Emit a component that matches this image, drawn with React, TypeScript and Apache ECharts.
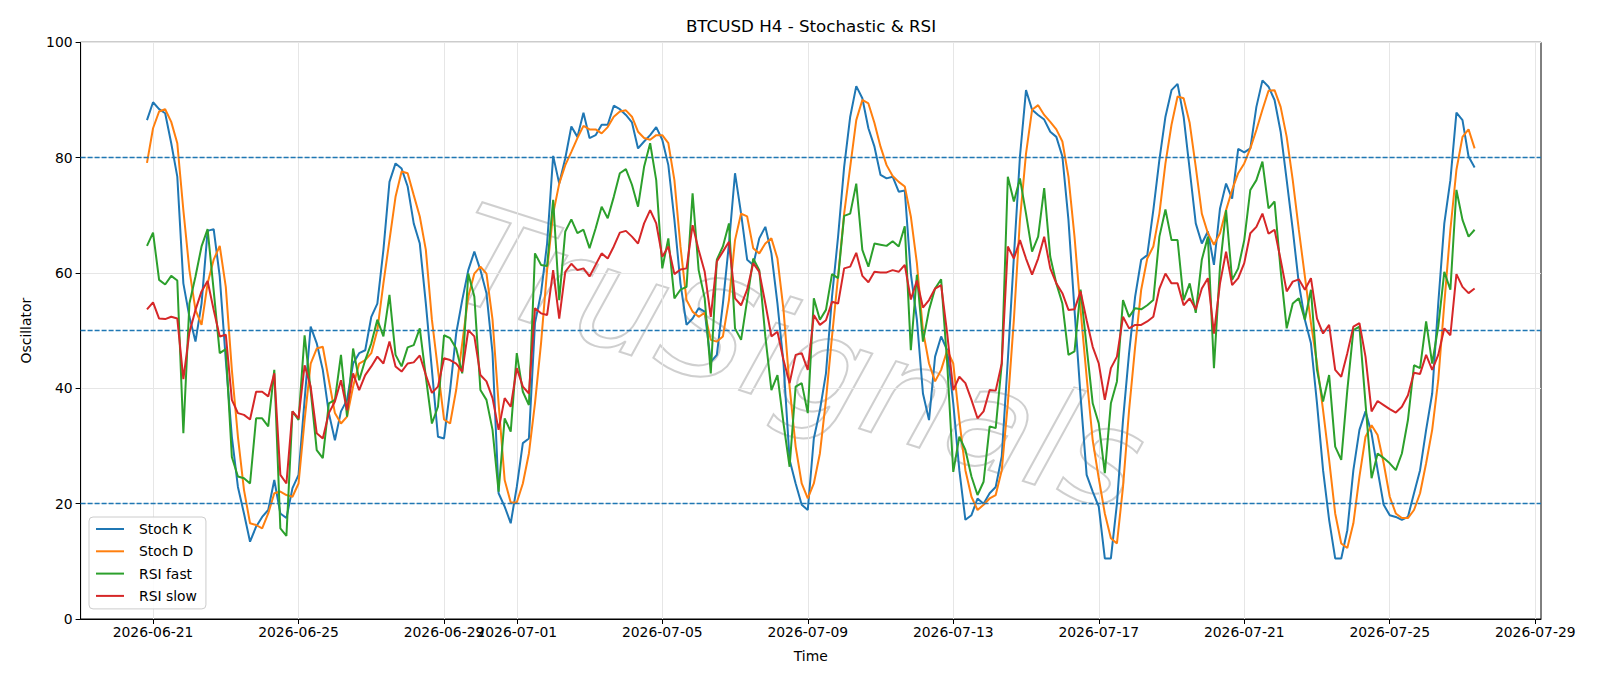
import React, { useEffect, useRef } from 'react';
import * as echarts from 'echarts';

// 4-hour bars, first bar at 2026-06-20 20:00 UTC
const START_UTC = Date.UTC(2026, 5, 20, 20);
const STEP_HOURS = 4;

const stochK = [
  86.5, 89.6, 88.4, 87.7, 82.5, 76.7, 58.2, 52.4, 48.1, 54.7,
  67.3, 67.6, 59.4, 44.9, 31.6, 22.9, 18.3, 13.4, 16, 17.7,
  18.9, 24.1, 18.3, 17.5, 22.7, 25, 38, 50.7, 47.8, 43.2,
  35.7, 31, 36, 38, 44.3, 46.1, 46.6, 52.4, 54.7, 64,
  75.8, 79, 78.1, 75, 68.6, 65.1, 54.7, 43.2, 31.6, 31.3,
  39.7, 49.5, 55.3, 60.5, 63.7, 60.5, 56.5, 46.1, 21.8, 19.5,
  16.6, 22.9, 30.5, 31.3, 51.3, 56.5, 65.1, 80.3, 75.5, 79.9,
  85.4, 83.6, 87.8, 83.4, 83.9, 85.7, 85.7, 89, 88.4, 87.4,
  86.1, 81.6, 82.8, 83.9, 85.3, 83.1, 78.7, 69.2, 58.2, 51,
  52.1, 53.9, 53.3, 44.6, 45.8, 54.7, 65.1, 77.3, 70.3, 62.3,
  61.4, 66, 68, 63.4, 54.7, 44.3, 27.6, 23.5, 19.8, 18.9,
  31.3, 36.2, 42.6, 55.9, 66.3, 78.4, 87.1, 92.4, 90.3, 85.1,
  81.9, 77, 76.4, 76.7, 74.1, 74.3, 59.9, 51.9, 39.1, 34.5,
  45.5, 49, 46.6, 37.4, 25.8, 17.2, 18, 20.9, 20, 21.8,
  22.9, 28.2, 44.9, 62.8, 80.2, 91.7, 88.3, 87.4, 86.6, 84.5,
  83.6, 80.2, 69.2, 53.6, 38.6, 25, 22.1, 19.5, 10.5, 10.5,
  20, 34.5, 46.1, 55.9, 62.3, 63.1, 70.9, 79.6, 87.1, 91.7,
  92.8, 87.1, 77.9, 68.6, 65.1, 67.2, 61.4, 71.2, 75.5, 72.9,
  81.5, 80.9, 81.6, 88.8, 93.4, 92.3, 90, 84.5, 76.1, 67.5,
  58.2, 51.9, 47.8, 37.4, 25.8, 17.2, 10.5, 10.5, 15.4, 25.8,
  32.8, 36, 32.2, 25.8, 19.8, 18, 17.7, 17.2, 17.7, 21.8,
  25.8, 32.8, 39.1, 54.7, 68.6, 76.1, 87.8, 86.5, 80.2, 78.3,
];

const stochD = [
  79.1, 85.1, 88, 88.4, 86.2, 82.5, 70.9, 60.5, 53.6, 51,
  58.2, 62.3, 64.7, 57.6, 43.2, 31.6, 22.4, 16.6, 16.3, 15.7,
  18.3, 21.8, 22.1, 21.5, 21.2, 23.5, 34.5, 44.3, 46.9, 47.2,
  41.4, 35.7, 33.9, 35.1, 40.3, 44.3, 44.9, 46.1, 50.1, 58.2,
  65.7, 73.2, 77.6, 77.3, 73.5, 69.8, 64, 51.9, 43.2, 34.6,
  33.9, 39.7, 47.8, 55.9, 59.9, 61.1, 59.9, 51.9, 37.4, 24.1,
  20.2, 20.2, 23.5, 28.7, 37.4, 47.8, 60.5, 70.3, 75.5, 78.7,
  81, 83.4, 85.5, 84.9, 84.9, 84.2, 85.3, 87.1, 88, 88.2,
  87.1, 84.5, 83.4, 83.1, 83.9, 83.9, 82.5, 76.1, 64.6, 55.3,
  53.3, 52.4, 53.1, 48.4, 48.1, 49, 55.3, 65.7, 70.3, 69.8,
  64.3, 63.4, 65.1, 66, 62.5, 53.6, 40.3, 29.9, 23.5, 20.9,
  23.5, 28.7, 38, 49, 59.4, 70.3, 78.4, 86.5, 90, 89.4,
  86, 81.9, 78.7, 76.8, 75.8, 75, 69.8, 61.7, 50, 44.3,
  41.2, 43.2, 46.6, 44.3, 34.5, 25.8, 21.2, 18.9, 19.8, 20.9,
  21.5, 25.8, 37.4, 51.9, 69.2, 80.7, 88.3, 89.1, 87.4, 86.2,
  84.9, 82.8, 76.7, 66.3, 53.6, 42, 31, 24.4, 18.3, 14,
  13.1, 22.9, 36.2, 47.2, 57.1, 62.5, 64.6, 70.3, 79, 85.7,
  90.6, 90.3, 86, 78.4, 70.3, 66.9, 64.9, 66.9, 70.9, 74.4,
  77.3, 79, 81.6, 84.8, 88.3, 91.6, 91.7, 88.8, 83.6, 76.1,
  67.5, 59.4, 51.3, 44.3, 36.2, 27.6, 18.3, 13.1, 12.3, 16.6,
  24.7, 31.6, 33.6, 31.9, 27, 21.2, 18.3, 17.5, 17.5, 18.9,
  21.8, 27, 32.8, 41.4, 54.7, 67.5, 77.9, 83.6, 84.9, 81.6,
];

const rsiFast = [
  64.7, 67, 58.8, 58, 59.5, 58.7, 32.2, 54.7, 59.4, 64.6,
  67.6, 57, 46.1, 46.8, 28.1, 24.7, 24.4, 23.5, 34.8, 34.8,
  33.4, 43.2, 15.7, 14.4, 36, 34.5, 49.2, 39.7, 29.3, 27.9,
  37.4, 38, 45.8, 35.1, 46.9, 41.4, 44.9, 47.8, 51.9, 49,
  56.2, 45.8, 43.8, 47.1, 47.5, 50.4, 42, 33.9, 36.8, 49.2,
  48.7, 46.9, 42.6, 59.9, 55.9, 39.7, 38, 32.8, 22.1, 34.8,
  32.5, 46.1, 39.4, 37.1, 63.4, 61.4, 61.2, 72.7, 55.3, 67.2,
  69.3, 66.9, 67.5, 64.3, 67.7, 71.5, 69.5, 73.2, 77.3, 78,
  75.3, 71.5, 78.4, 82.5, 76.1, 60.8, 66, 55.6, 57.1, 57.6,
  73.8, 60.5, 55.6, 42.6, 62.3, 64.6, 68.6, 50.4, 48.4, 55.3,
  62.5, 60.5, 49, 39.7, 42.3, 33.9, 26.4, 40.3, 40.9, 35.7,
  55.6, 51.9, 53.6, 59.8, 59.1, 69.9, 70.3, 75.5, 64, 61.1,
  65.1, 64.9, 64.7, 65.5, 64.6, 68.1, 46.6, 59.7, 48.1, 53.6,
  57.3, 58.9, 44.3, 25.5, 31.6, 29.3, 24.7, 21.5, 23.8, 33.4,
  33.1, 44.3, 76.7, 72.4, 76.4, 70.3, 63.7, 66.3, 74.7, 62.8,
  58.2, 54.7, 45.8, 46.4, 57.1, 47.2, 37.4, 33.9, 25.3, 37.4,
  41.2, 55.3, 52.4, 53.9, 53.7, 54.4, 55.3, 66.3, 71, 65.7,
  65.7, 55.3, 58.2, 53.1, 62.3, 66.3, 43.5, 61.1, 70.9, 58.8,
  60.8, 65.7, 74.4, 76.1, 79.3, 71.2, 72.4, 60.5, 50.4, 54.7,
  55.6, 51.9, 57.1, 43.2, 37.7, 42.3, 29.9, 27.6, 39.7, 50.1,
  50.7, 37.4, 24.4, 28.7, 27.9, 27, 25.8, 28.7, 34.5, 44,
  43.5, 51.6, 44.3, 50.7, 60.2, 57.1, 74.4, 69.2, 66.3, 67.5,
];

const rsiSlow = [
  53.7, 54.9, 52.1, 52, 52.4, 52.1, 41.6, 49.7, 53.6, 56.8,
  58.6, 53.6, 49, 49.3, 38, 35.7, 35.4, 34.6, 39.4, 39.4,
  38.6, 42.6, 25, 23.5, 36, 34.8, 44, 40.3, 32.2, 31.3,
  35.7, 37.7, 41.4, 36.2, 42.6, 39.7, 42.3, 43.8, 45.5, 44.3,
  48.1, 43.8, 42.9, 44.3, 44.5, 45.7, 42.3, 39.2, 40.3, 45.2,
  44.9, 44.3, 42.9, 50.1, 49, 42.3, 41.2, 38.3, 32.8, 38.3,
  36.8, 43.5, 40.3, 39.1, 53.9, 53, 52.7, 60.5, 52.1, 60.2,
  61.6, 60.5, 60.8, 59.4, 61.4, 63.4, 62.5, 64.6, 67, 67.3,
  66.3, 65.1, 68.6, 70.9, 68.6, 62.8, 64.6, 59.8, 60.6, 60.8,
  68.3, 64, 60.2, 52.4, 62, 63.7, 65.4, 55.6, 54.4, 57.1,
  61.7, 60.2, 54.7, 49, 49.8, 44.9, 40.9, 45.8, 46.1, 43.2,
  52.7, 51, 51.8, 55, 54.7, 60.8, 61.1, 63.5, 59.5, 58.4,
  60.2, 60.1, 60.1, 60.5, 60.2, 61.4, 55.4, 58.7, 54, 55.3,
  57.3, 57.9, 49.5, 39.7, 42, 40.9, 38, 34.8, 36, 39.7,
  39.6, 44.3, 64.6, 62.5, 65.7, 62.5, 59.7, 62.5, 66.3, 60.8,
  58.2, 56.5, 53.6, 53.7, 56.8, 51.8, 47.2, 44.3, 38, 43.5,
  45.5, 52.4, 50.4, 51, 51, 51.6, 52.4, 57.3, 59.9, 58.2,
  58.2, 54.4, 55.6, 53.7, 57.3, 59.1, 49.5, 58.2, 63.7, 57.9,
  59.1, 61.7, 66.9, 68, 70.3, 66.8, 67.5, 62.3, 56.8, 58.5,
  58.9, 57.1, 59.1, 52.1, 49.5, 51, 43.2, 42, 46.1, 50.7,
  51.3, 45.5, 36, 37.8, 37.1, 36.4, 35.8, 36.8, 38.8, 42.7,
  42.5, 45.8, 43.2, 45.8, 50.4, 49.2, 59.8, 57.6, 56.5, 57.3,
];

const levelLines = [20, 50, 80];
const xTickDates = [
  '2026-06-21', '2026-06-25', '2026-06-29', '2026-07-01', '2026-07-05', '2026-07-09',
  '2026-07-13', '2026-07-17', '2026-07-21', '2026-07-25', '2026-07-29',
];
const seriesNames = ['Stoch K', 'Stoch D', 'RSI fast', 'RSI slow'];
const seriesColors = ['#1f77b4', '#ff7f0e', '#2ca02c', '#d62728'];

const FONT = 'DejaVu Sans';

const pad2 = (n: number) => (n < 10 ? '0' + n : '' + n);
const fmtDate = (v: number) => {
  const d = new Date(v);
  return `${d.getUTCFullYear()}-${pad2(d.getUTCMonth() + 1)}-${pad2(d.getUTCDate())}`;
};

export default function App() {
  const ref = useRef<HTMLDivElement>(null);

  useEffect(() => {
    if (!ref.current) return;
    const chart = echarts.init(ref.current, null, { renderer: 'svg' });
    const stepMs = STEP_HOURS * 3600 * 1000;
    const times = stochK.map((_, i) => START_UTC + i * stepMs);
    const t0 = times[0];
    const t1 = times[times.length - 1];
    const span = t1 - t0;
    const xMin = t0 - 0.05 * span;
    const xMax = t1 + 0.05 * span;
    const xTicks = xTickDates.map((d) => Date.parse(d + 'T00:00:00Z'));
    const all = [stochK, stochD, rsiFast, rsiSlow];

    const gridLeft = 80.6;
    const gridRight = 1600 - 1541;
    const gridTop = 42.3;
    const gridBottom = 686 - 619;

    chart.setOption({
      animation: false,
      backgroundColor: '#ffffff',
      textStyle: { fontFamily: FONT },
      grid: {
        left: gridLeft,
        right: gridRight,
        top: gridTop,
        bottom: gridBottom,
        show: true,
        borderColor: '#000000',
        borderWidth: 1,
        backgroundColor: 'transparent',
      },
      legend: {
        orient: 'vertical',
        left: 89,
        top: 517,
        padding: [5, 9, 6, 7],
        itemGap: 8.3,
        itemWidth: 28,
        itemHeight: 2,
        icon: 'rect',
        backgroundColor: 'rgba(255,255,255,0.85)',
        borderColor: '#cccccc',
        borderWidth: 1,
        borderRadius: 4,
        textStyle: { fontFamily: FONT, fontSize: 13.9, color: '#000', padding: [0, 0, 0, 10] },
        data: seriesNames,
      },
      xAxis: {
        type: 'value',
        min: xMin,
        max: xMax,
        name: 'Time',
        nameLocation: 'middle',
        nameGap: 30,
        nameTextStyle: { fontFamily: FONT, fontSize: 13.9, color: '#000' },
        axisLine: { show: true, onZero: false, lineStyle: { color: '#000', width: 1 } },
        axisTick: { show: true, length: 5, customValues: xTicks, lineStyle: { color: '#000' } },
        axisLabel: {
          customValues: xTicks,
          formatter: (v: number) => fmtDate(v),
          fontFamily: FONT,
          fontSize: 13.9,
          color: '#000',
          margin: 6,
        },
        splitLine: { show: true, lineStyle: { color: '#e6e6e6', width: 1 } },
      },
      yAxis: {
        type: 'value',
        min: 0,
        max: 100,
        interval: 20,
        name: 'Oscillator',
        nameLocation: 'middle',
        nameGap: 48,
        nameTextStyle: { fontFamily: FONT, fontSize: 13.9, color: '#000' },
        axisLine: { show: true, lineStyle: { color: '#000', width: 1 } },
        axisTick: { show: true, length: 5, lineStyle: { color: '#000' } },
        axisLabel: { fontFamily: FONT, fontSize: 13.9, color: '#000', margin: 8 },
        splitLine: { show: true, lineStyle: { color: '#e6e6e6', width: 1 } },
      },
      graphic: [
        {
          type: 'text',
          x: 811,
          y: 26,
          silent: true,
          style: {
            text: 'BTCUSD H4 - Stochastic & RSI',
            align: 'center',
            verticalAlign: 'middle',
            fontFamily: FONT,
            fontSize: 16.7,
            fill: '#000',
          },
        },
        {
          type: 'text',
          x: 798,
          y: 359,
          rotation: -0.31,
          silent: true,
          z: -1,
          style: {
            text: 'TruSignals',
            align: 'center',
            verticalAlign: 'middle',
            fontFamily: FONT,
            fontStyle: 'italic',
            fontWeight: 200,
            fontSize: 138,
            fill: 'rgba(0,0,0,0)',
            stroke: 'rgba(160,160,160,0.5)',
            lineWidth: 2,
          },
        },
      ],
      series: all.map((arr, k) => ({
        name: seriesNames[k],
        type: 'line',
        data: times.map((t, i) => [t, arr[i]]),
        showSymbol: false,
        symbol: 'none',
        color: seriesColors[k],
        lineStyle: { width: 2, color: seriesColors[k] },
        z: 3 + k,
        ...(k === 0
          ? {
              markLine: {
                silent: true,
                symbol: 'none',
                label: { show: false },
                lineStyle: { color: '#1f77b4', type: [5, 2], width: 1.3 },
                data: levelLines.map((v) => ({ yAxis: v })),
              },
            }
          : {}),
      })),
    });

    return () => {
      chart.dispose();
    };
  }, []);

  return (
    <div
      ref={ref}
      style={{ position: 'fixed', left: 0, top: 0, width: 1600, height: 686 }}
    />
  );
}
